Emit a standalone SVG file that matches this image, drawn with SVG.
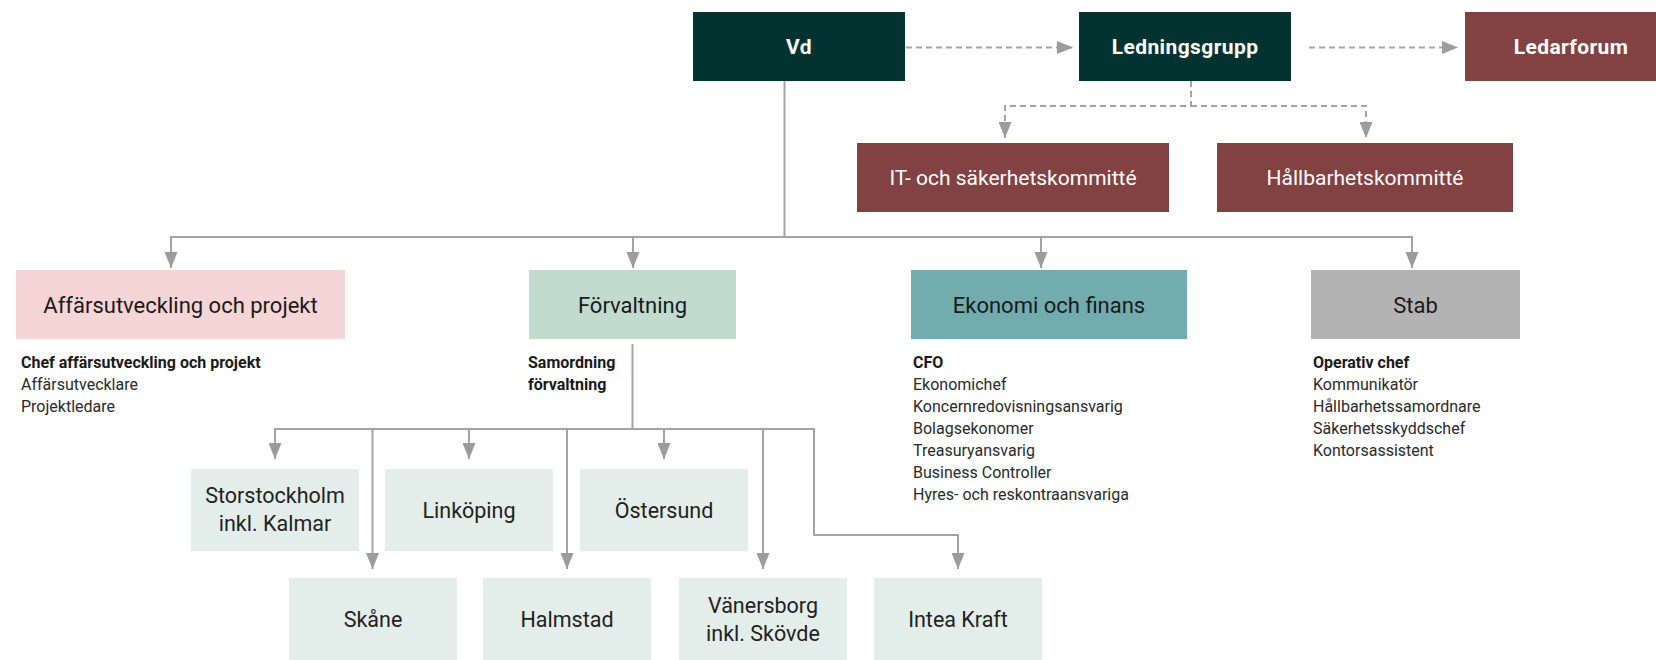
<svg xmlns="http://www.w3.org/2000/svg" width="1656" height="660" viewBox="0 0 1656 660">
  <defs>
    <style>
      text { font-family: Roboto, "Liberation Sans", "DejaVu Sans", sans-serif; }
      .dark { fill: #033330; }
      .maroon { fill: #824242; }
      .pink { fill: #f5d5d5; }
      .sage { fill: #c2dbcf; }
      .teal { fill: #72acaf; }
      .grey { fill: #b3b3b3; }
      .pale { fill: #e3eeea; }
      .lbl-top { fill: #ffffff; font-size: 21px; font-weight: 700; text-anchor: middle; letter-spacing: 0.4px; }
      .lbl-com { fill: #ffffff; font-size: 21px; font-weight: 400; text-anchor: middle; }
      .lbl-dept { fill: #1a1a1a; font-size: 22px; text-anchor: middle; }
      .lbl-unit { fill: #222222; font-size: 21.5px; text-anchor: middle; }
      .role { fill: #2a2a2a; font-size: 16px; }
      .role-head { fill: #1a1a1a; font-size: 16px; font-weight: 700; }
      .line { fill: none; stroke: #a3a3a3; stroke-width: 2; }
      .dash { fill: none; stroke: #a3a3a3; stroke-width: 2; stroke-dasharray: 6 4; }
    </style>
    <marker id="arrow" markerUnits="userSpaceOnUse" viewBox="0 0 16 13" refX="16" refY="6.5" markerWidth="16" markerHeight="13" orient="auto">
      <path d="M0,0 L16,6.5 L0,13 Z" fill="#9c9c9c"/>
    </marker>
  </defs>

  <rect width="1656" height="660" fill="#ffffff"/>

  <!-- connectors -->
  <g id="connectors">
    <!-- management level (dashed) -->
    <path class="dash" d="M906,47.5 H1073" marker-end="url(#arrow)"/>
    <path class="dash" d="M1309,47.5 H1458" marker-end="url(#arrow)"/>
    <path class="dash" d="M1191,81 V106 H1005 V138" marker-end="url(#arrow)"/>
    <path class="dash" d="M1191,106 H1366 V138" marker-end="url(#arrow)"/>

    <!-- Vd to departments -->
    <path class="line" d="M784.5,81 V237"/>
    <path class="line" d="M171,237 H1412"/>
    <path class="line" d="M171,236 V268" marker-end="url(#arrow)"/>
    <path class="line" d="M633,237 V268" marker-end="url(#arrow)"/>
    <path class="line" d="M1041,237 V268" marker-end="url(#arrow)"/>
    <path class="line" d="M1412,236 V268" marker-end="url(#arrow)"/>

    <!-- Förvaltning to regions -->
    <path class="line" d="M632.5,344 V429"/>
    <path class="line" d="M275,429 H814"/>
    <path class="line" d="M275,428 V459" marker-end="url(#arrow)"/>
    <path class="line" d="M469,429 V459" marker-end="url(#arrow)"/>
    <path class="line" d="M664,429 V459" marker-end="url(#arrow)"/>
    <path class="line" d="M372.5,429 V569" marker-end="url(#arrow)"/>
    <path class="line" d="M567,429 V569" marker-end="url(#arrow)"/>
    <path class="line" d="M763,429 V569" marker-end="url(#arrow)"/>
    <path class="line" d="M814,428 V535 H958 V569" marker-end="url(#arrow)"/>
  </g>

  <!-- top level -->
  <g id="vd">
    <rect class="dark" x="693" y="12" width="212" height="69"/>
    <text class="lbl-top" x="799" y="54">Vd</text>
  </g>
  <g id="ledningsgrupp">
    <rect class="dark" x="1079" y="12" width="212" height="69"/>
    <text class="lbl-top" x="1185" y="54">Ledningsgrupp</text>
  </g>
  <g id="ledarforum">
    <rect class="maroon" x="1465" y="12" width="212" height="69"/>
    <text class="lbl-top" x="1571" y="54">Ledarforum</text>
  </g>

  <!-- committees -->
  <g id="it-kommitte">
    <rect class="maroon" x="857" y="143" width="312" height="69"/>
    <text class="lbl-com" x="1013" y="185">IT- och säkerhetskommitté</text>
  </g>
  <g id="hallbarhetskommitte">
    <rect class="maroon" x="1217" y="143" width="296" height="69"/>
    <text class="lbl-com" x="1365" y="185">Hållbarhetskommitté</text>
  </g>

  <!-- departments -->
  <g id="affarsutveckling">
    <rect class="pink" x="16" y="270" width="329" height="69"/>
    <text class="lbl-dept" x="180.5" y="312.5">Affärsutveckling och projekt</text>
    <text class="role-head" x="21" y="368">Chef affärsutveckling och projekt</text>
    <text class="role" x="21" y="390">Affärsutvecklare</text>
    <text class="role" x="21" y="412">Projektledare</text>
  </g>
  <g id="forvaltning">
    <rect class="sage" x="529" y="270" width="207" height="69"/>
    <text class="lbl-dept" x="632.5" y="312.5">Förvaltning</text>
    <text class="role-head" x="528" y="368">Samordning</text>
    <text class="role-head" x="528" y="390">förvaltning</text>
  </g>
  <g id="ekonomi">
    <rect class="teal" x="911" y="270" width="276" height="69"/>
    <text class="lbl-dept" x="1049" y="312.5">Ekonomi och finans</text>
    <text class="role-head" x="913" y="368">CFO</text>
    <text class="role" x="913" y="390">Ekonomichef</text>
    <text class="role" x="913" y="412">Koncernredovisningsansvarig</text>
    <text class="role" x="913" y="434">Bolagsekonomer</text>
    <text class="role" x="913" y="456">Treasuryansvarig</text>
    <text class="role" x="913" y="478">Business Controller</text>
    <text class="role" x="913" y="500">Hyres- och reskontraansvariga</text>
  </g>
  <g id="stab">
    <rect class="grey" x="1311" y="270" width="209" height="69"/>
    <text class="lbl-dept" x="1415.5" y="312.5">Stab</text>
    <text class="role-head" x="1313" y="368">Operativ chef</text>
    <text class="role" x="1313" y="390">Kommunikatör</text>
    <text class="role" x="1313" y="412">Hållbarhetssamordnare</text>
    <text class="role" x="1313" y="434">Säkerhetsskyddschef</text>
    <text class="role" x="1313" y="456">Kontorsassistent</text>
  </g>

  <!-- regions -->
  <g id="storstockholm">
    <rect class="pale" x="191" y="469" width="168" height="82"/>
    <text class="lbl-unit" x="275" y="503">Storstockholm</text>
    <text class="lbl-unit" x="275" y="531">inkl. Kalmar</text>
  </g>
  <g id="linkoping">
    <rect class="pale" x="385" y="469" width="168" height="82"/>
    <text class="lbl-unit" x="469" y="518">Linköping</text>
  </g>
  <g id="ostersund">
    <rect class="pale" x="580" y="469" width="168" height="82"/>
    <text class="lbl-unit" x="664" y="518">Östersund</text>
  </g>
  <g id="skane">
    <rect class="pale" x="289" y="578" width="168" height="82"/>
    <text class="lbl-unit" x="373" y="627">Skåne</text>
  </g>
  <g id="halmstad">
    <rect class="pale" x="483" y="578" width="168" height="82"/>
    <text class="lbl-unit" x="567" y="627">Halmstad</text>
  </g>
  <g id="vanersborg">
    <rect class="pale" x="679" y="578" width="168" height="82"/>
    <text class="lbl-unit" x="763" y="613">Vänersborg</text>
    <text class="lbl-unit" x="763" y="641">inkl. Skövde</text>
  </g>
  <g id="intea-kraft">
    <rect class="pale" x="874" y="578" width="168" height="82"/>
    <text class="lbl-unit" x="958" y="627">Intea Kraft</text>
  </g>
</svg>
